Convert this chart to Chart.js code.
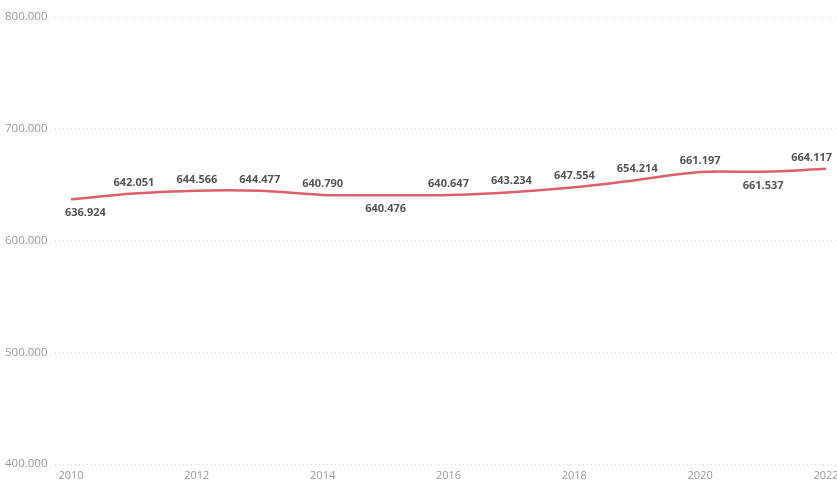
<!DOCTYPE html>
<html>
<head>
<meta charset="utf-8">
<script src="https://cdn.jsdelivr.net/npm/chart.js@4/dist/chart.umd.min.js"></script>
<style>
html,body{margin:0;padding:0;background:#fff;overflow:hidden;}
#wrap{width:837px;height:480px;position:relative;}
</style>
</head>
<body>
<div id="wrap"><canvas id="c"></canvas></div>
<script>
const years = [2010,2011,2012,2013,2014,2015,2016,2017,2018,2019,2020,2021,2022];
const values = [636924,642051,644566,644477,640790,640476,640647,643234,647554,654214,661197,661537,664117];
const labelBelow = [true,false,false,false,false,true,false,false,false,false,false,true,false];
const yTicks = [400000,500000,600000,700000,800000];
const xTicks = [2010,2012,2014,2016,2018,2020,2022];

function fmt(v){
  return String(Math.round(v)).replace(/\B(?=(\d{3})+(?!\d))/g,'.');
}

const dataLabels = {
  id:'dataLabels',
  afterDatasetsDraw(chart){
    const ctx = chart.ctx;
    const xs = chart.scales.x, ys = chart.scales.y;
    ctx.save();
    ctx.font = 'bold 11px "Open Sans"';
    ctx.fillStyle = '#555555';
    ctx.textAlign = 'center';
    ctx.textBaseline = 'middle';
    values.forEach((v,i)=>{
      const px = xs.getPixelForValue(years[i]);
      const py = ys.getPixelForValue(v);
      const t = fmt(v);
      const w = ctx.measureText(t).width;
      let cx = px;
      const maxR = chart.chartArea.right - 5;
      const minL = chart.chartArea.left + 10;
      if (cx + w/2 > maxR) cx = maxR - w/2;
      if (cx - w/2 < minL) cx = minL + w/2;
      const cy = labelBelow[i] ? py + 14 : py - 11;
      ctx.fillText(t, cx, cy);
    });
    ctx.restore();
  }
};

new Chart(document.getElementById('c'), {
  type:'line',
  data:{
    datasets:[{
      data: years.map((y,i)=>({x:y,y:values[i]})),
      borderColor:'#d9606c',
      borderWidth:2.5,
      pointRadius:0,
      tension:0.35,
      fill:false
    }]
  },
  options:{
    responsive:true,
    maintainAspectRatio:false,
    animation:false,
    layout:{padding:{left:5,top:17,right:0,bottom:0}},
    plugins:{legend:{display:false},tooltip:{enabled:false}},
    scales:{
      x:{
        type:'linear',
        min:2009.746,
        max:2022.175,
        grid:{display:false, drawTicks:false},
        border:{display:false},
        afterBuildTicks(scale){ scale.ticks = xTicks.map(v=>({value:v})); },
        afterFit(scale){ scale.height = 16; scale.paddingLeft = 0; scale.paddingRight = 0; },
        ticks:{
          autoSkip:false,
          maxRotation:0,
          padding:5,
          color:'#9a9a9a',
          font:{family:'"Open Sans"',size:11},
          callback:(v)=>String(v)
        }
      },
      y:{
        min:400000,
        max:800000,
        afterBuildTicks(scale){ scale.ticks = yTicks.map(v=>({value:v})); },
        afterFit(scale){ scale.width = 50; scale.paddingTop = 0; scale.paddingBottom = 0; },
        border:{display:false, dash:[1,3]},
        grid:{
          color:'#d8d8d8',
          lineWidth:1,
          drawTicks:false
        },
        ticks:{
          crossAlign:'far',
          padding:4,
          color:'#9a9a9a',
          font:{family:'"Open Sans"',size:11.5},
          callback:(v)=>fmt(v)
        }
      }
    }
  },
  plugins:[dataLabels]
});
</script>
</body>
</html>
